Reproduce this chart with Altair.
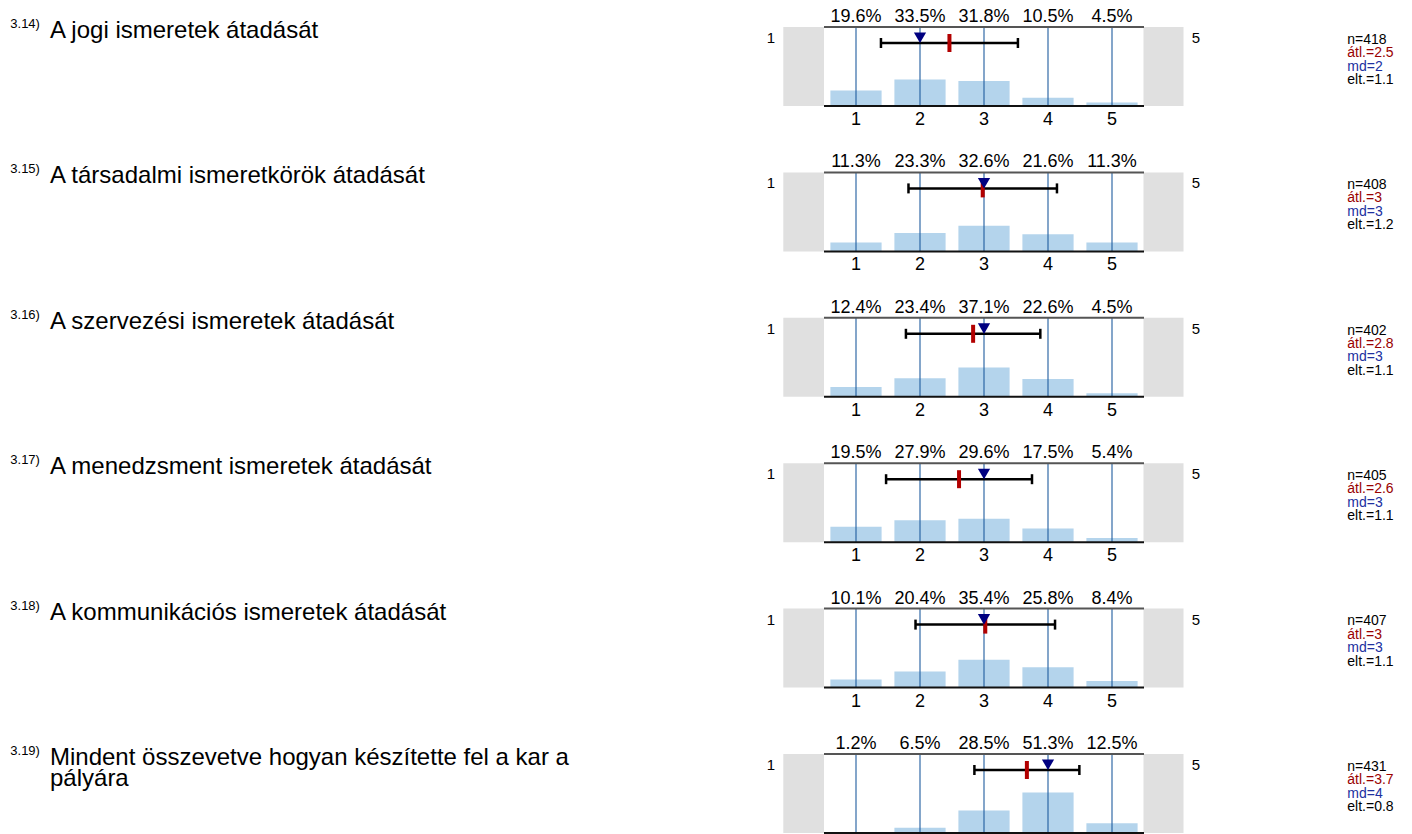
import altair as alt
import pandas as pd

# ---------------- data ----------------
codes = ["3.14)", "3.15)", "3.16)", "3.17)", "3.18)", "3.19)"]
questions = [
    "A jogi ismeretek átadását",
    "A társadalmi ismeretkörök átadását",
    "A szervezési ismeretek átadását",
    "A menedzsment ismeretek átadását",
    "A kommunikációs ismeretek átadását",
    "Mindent összevetve hogyan készítette fel a kar a\npályára",
]
categories = [1, 2, 3, 4, 5]
tick_labels = ["1", "2", "3", "4", "5"]
shares = [
    [19.6, 33.5, 31.8, 10.5, 4.5],
    [11.3, 23.3, 32.6, 21.6, 11.3],
    [12.4, 23.4, 37.1, 22.6, 4.5],
    [19.5, 27.9, 29.6, 17.5, 5.4],
    [10.1, 20.4, 35.4, 25.8, 8.4],
    [1.2, 6.5, 28.5, 51.3, 12.5],
]
n_values = [418, 408, 402, 405, 407, 431]
means = [2.46, 2.98, 2.83, 2.61, 3.02, 3.67]
mean_labels = ["2.5", "3", "2.8", "2.6", "3", "3.7"]
medians = [2, 3, 3, 3, 3, 4]
md_labels = ["2", "3", "3", "3", "3", "4"]
sds = [1.07, 1.16, 1.05, 1.14, 1.09, 0.82]
sd_labels = ["1.1", "1.2", "1.1", "1.1", "1.1", "0.8"]
scale_ends = ["1", "5"]

# ---------------- style ----------------
FONT = "Liberation Sans"
W, H = 320, 79
xs = alt.Scale(domain=[0.5, 5.5], nice=False, zero=False)
ys = alt.Scale(domain=[0, 100], nice=False, zero=True)


def make_row(i):
    dist = pd.DataFrame({
        "cat": categories,
        "pct": shares[i],
        "tick": tick_labels,
        "label": [f"{v:.1f}%" for v in shares[i]],
    })
    stat = pd.DataFrame({
        "mean": [means[i]],
        "sd": [sds[i]],
        "median": [medians[i]],
        "code": [codes[i]],
        "question": [questions[i]],
        "n_txt": [f"n={n_values[i]}"],
        "m_txt": [f"átl.={mean_labels[i]}"],
        "md_txt": [f"md={md_labels[i]}"],
        "sd_txt": [f"elt.={sd_labels[i]}"],
        "lo_end": [scale_ends[0]],
        "hi_end": [scale_ends[1]],
    })

    base_d = alt.Chart(dist)
    base_s = alt.Chart(stat)

    gray_l = base_s.mark_rect(color="#e0e0e0").encode(
        x=alt.value(-40.7), x2=alt.value(0), y=alt.value(0), y2=alt.value(H))
    gray_r = base_s.mark_rect(color="#e0e0e0").encode(
        x=alt.value(W - 0.5), x2=alt.value(W + 39.5), y=alt.value(0), y2=alt.value(H))

    bars = base_d.transform_calculate(
        x0="datum.cat - 0.4", x1="datum.cat + 0.4", base="0"
    ).mark_bar(color="#b4d4ec").encode(
        x=alt.X("x0:Q", scale=xs, axis=None),
        x2="x1:Q",
        y=alt.Y("pct:Q", scale=ys, axis=None),
        y2="base:Q",
    )

    grid = base_d.mark_rule(color="#1f5c9e", strokeWidth=1.1).encode(
        x=alt.X("cat:Q", scale=xs, axis=None), y=alt.value(0), y2=alt.value(H))

    top_line = base_s.mark_rule(color="#555555", strokeWidth=2).encode(
        x=alt.value(0), x2=alt.value(W), y=alt.value(0))
    bot_line = base_s.mark_rule(color="#111111", strokeWidth=2).encode(
        x=alt.value(0), x2=alt.value(W), y=alt.value(H))

    sd_base = base_s.transform_calculate(
        lo="datum.mean - datum.sd", hi="datum.mean + datum.sd")
    whisker = sd_base.mark_rule(color="black", strokeWidth=2.5).encode(
        x=alt.X("lo:Q", scale=xs, axis=None), x2="hi:Q", y=alt.value(16))
    caps = sd_base.transform_fold(["lo", "hi"]).mark_rule(
        color="black", strokeWidth=2.5).encode(
        x=alt.X("value:Q", scale=xs, axis=None), y=alt.value(11), y2=alt.value(21))
    mean_mark = base_s.mark_rule(color="#b20000", strokeWidth=4).encode(
        x=alt.X("mean:Q", scale=xs, axis=None), y=alt.value(7), y2=alt.value(25))
    med_mark = base_s.mark_point(
        shape="triangle-down", filled=True, color="#000080", size=150, opacity=1
    ).encode(x=alt.X("median:Q", scale=xs, axis=None), y=alt.value(10.8))

    pct_text = base_d.mark_text(font=FONT, fontSize=18, baseline="alphabetic").encode(
        x=alt.X("cat:Q", scale=xs, axis=None), y=alt.value(-5), text="label:N")
    tick_text = base_d.mark_text(font=FONT, fontSize=18, baseline="alphabetic").encode(
        x=alt.X("cat:Q", scale=xs, axis=None), y=alt.value(H + 19), text="tick:N")

    end_l = base_s.mark_text(font=FONT, fontSize=15, baseline="alphabetic").encode(
        x=alt.value(-53), y=alt.value(16), text="lo_end:N")
    end_r = base_s.mark_text(font=FONT, fontSize=15, baseline="alphabetic").encode(
        x=alt.value(372), y=alt.value(16), text="hi_end:N")

    code_t = base_s.mark_text(font=FONT, fontSize=13, align="left", baseline="alphabetic").encode(
        x=alt.value(-813.7), y=alt.value(1), text="code:N")
    q_t = base_s.mark_text(font=FONT, fontSize=24, align="left", baseline="alphabetic",
                           lineBreak="\n", lineHeight=21).encode(
        x=alt.value(-774), y=alt.value(11), text="question:N")

    stx = 523.3
    s1 = base_s.mark_text(font=FONT, fontSize=14, align="left", baseline="alphabetic",
                          color="#000000").encode(x=alt.value(stx), y=alt.value(16.7), text="n_txt:N")
    s2 = base_s.mark_text(font=FONT, fontSize=14, align="left", baseline="alphabetic",
                          color="#990000").encode(x=alt.value(stx), y=alt.value(30), text="m_txt:N")
    s3 = base_s.mark_text(font=FONT, fontSize=14, align="left", baseline="alphabetic",
                          color="#2030a0").encode(x=alt.value(stx), y=alt.value(43.5), text="md_txt:N")
    s4 = base_s.mark_text(font=FONT, fontSize=14, align="left", baseline="alphabetic",
                          color="#000000").encode(x=alt.value(stx), y=alt.value(57), text="sd_txt:N")

    return alt.layer(
        gray_l, gray_r, bars, grid, top_line, bot_line, whisker, caps,
        mean_mark, med_mark, pct_text, tick_text, end_l, end_r, code_t, q_t,
        s1, s2, s3, s4,
    ).properties(width=W, height=H)


rows = [make_row(i) for i in range(len(codes))]
chart = alt.vconcat(*rows, spacing=66.4, bounds="flush").properties(
    padding={"left": 2, "top": 0, "right": 5, "bottom": 0},
    background="white",
).configure_view(stroke=None)

chart.save("out.html", embed_options={"renderer": "svg", "actions": False})
